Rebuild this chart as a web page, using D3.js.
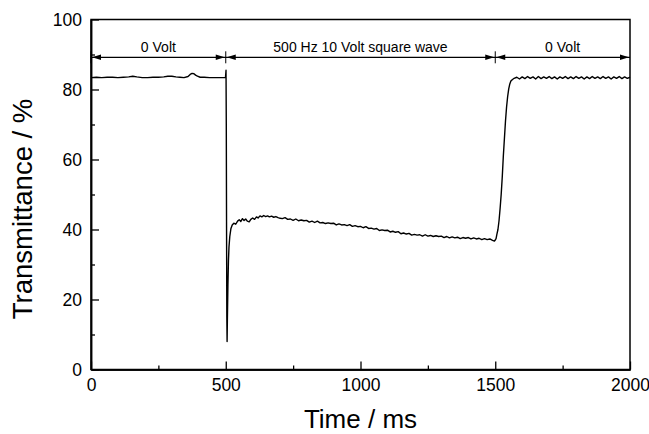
<!DOCTYPE html>
<html>
<head>
<meta charset="utf-8">
<script src="https://cdn.jsdelivr.net/npm/d3@7.9.0/dist/d3.min.js"></script>
<style>
  body { margin: 0; background: #fff; }
  svg text { font-family: Arial, "Liberation Sans", Helvetica, sans-serif; fill: #000; }
</style>
</head>
<body>
<svg id="chart" width="649" height="434"></svg>
<script>
// axis ticks
const xTicks = [0, 500, 1000, 1500, 2000];
const xMinor = [250, 750, 1250, 1750];
const yTicks = [0, 20, 40, 60, 80, 100];
const yMinor = [10, 30, 50, 70, 90];

// voltage phases shown above the trace
const phaseBounds = [0, 500, 1500, 2000];
const phaseLabels = ['0 Volt', '500 Hz 10 Volt square wave', '0 Volt'];
const phaseLevel = 89.2;

// transmittance trace [time ms, %]
const offBefore = [
  [0, 83.4], [20, 83.5], [40, 83.4], [60, 83.5], [80, 83.5], [100, 83.4], [120, 83.5],
  [140, 83.6], [155, 83.8], [170, 83.6], [190, 83.4], [210, 83.4], [230, 83.5], [250, 83.5],
  [270, 83.6], [285, 83.8], [300, 83.8], [315, 83.6], [330, 83.5], [345, 83.4], [360, 83.7],
  [368, 84.3], [375, 84.6], [382, 84.5], [388, 84.1], [395, 83.8], [405, 83.5], [420, 83.5],
  [440, 83.4], [460, 83.4], [480, 83.4], [499, 83.4]
];

const driven = [
  [501, 85.5], [502, 70], [503, 40], [504, 15], [505, 8], [506, 14], [508, 24], [510, 31],
  [512, 35], [515, 38], [519, 40.2], [524, 41.3], [530, 41.8], [537, 41.5], [544, 42.4],
  [550, 42.8], [556, 42.3], [562, 43.1], [568, 42.6], [574, 43.0], [580, 42.4], [587, 42.2],
  [593, 42.9], [600, 43.3], [607, 42.9], [614, 43.6], [620, 43.3], [627, 43.9], [634, 43.6],
  [641, 44.0], [648, 43.7], [655, 43.9], [662, 43.6], [670, 43.8], [678, 43.5], [686, 43.7],
  [694, 43.4], [702, 43.2], [710, 43.1], [720, 43.4], [730, 42.9], [740, 43.0], [750, 42.6],
  [760, 43.0], [770, 42.5], [780, 42.7], [790, 42.5], [800, 42.6], [810, 42.1], [820, 42.4],
  [830, 42.0], [840, 42.4], [850, 41.9], [860, 42.0], [870, 41.7], [880, 41.9], [890, 41.7],
  [900, 41.8], [910, 41.3], [920, 41.6], [930, 41.3], [940, 41.4], [950, 41.1], [960, 41.4],
  [970, 40.9], [980, 41.1], [990, 40.8], [1000, 40.9], [1010, 40.5], [1020, 40.8], [1030, 40.3],
  [1040, 40.4], [1050, 40.1], [1060, 40.3], [1070, 39.7], [1080, 39.9], [1090, 39.7], [1100, 39.8],
  [1110, 39.3], [1120, 39.5], [1130, 39.2], [1140, 39.4], [1150, 38.8], [1160, 39.0], [1170, 38.7],
  [1180, 38.9], [1190, 38.4], [1200, 38.6], [1210, 38.4], [1220, 38.5], [1230, 38.1], [1240, 38.5],
  [1250, 38.1], [1260, 38.3], [1270, 38.0], [1280, 38.2], [1290, 38.0], [1300, 38.1], [1310, 37.7],
  [1320, 38.0], [1330, 37.6], [1340, 37.9], [1350, 37.6], [1360, 37.8], [1370, 37.4], [1380, 37.7],
  [1390, 37.5], [1400, 37.7], [1410, 37.3], [1420, 37.6], [1430, 37.3], [1440, 37.5], [1450, 37.1],
  [1460, 37.4], [1470, 37.1], [1480, 37.3], [1490, 36.9], [1497, 36.7]
];

const offAfter = [
  [1500, 37.0], [1503, 37.4], [1506, 38.6], [1510, 40.0], [1514, 42.5], [1518, 46], [1522, 50],
  [1526, 55], [1530, 61], [1534, 66], [1538, 71], [1542, 75], [1546, 78], [1550, 80.2],
  [1554, 81.6], [1558, 82.4], [1563, 82.8], [1570, 83.2], [1580, 83.5], [1590, 83.0],
  [1600, 83.6], [1610, 83.1], [1620, 83.7], [1630, 83.2], [1640, 83.6], [1650, 83.0],
  [1660, 83.7], [1670, 83.1], [1680, 83.6], [1690, 83.2], [1700, 83.7], [1710, 83.1],
  [1720, 83.6], [1730, 83.0], [1740, 83.6], [1750, 83.2], [1760, 83.7], [1770, 83.1],
  [1780, 83.6], [1790, 83.1], [1800, 83.7], [1810, 83.2], [1820, 83.6], [1830, 83.0],
  [1840, 83.6], [1850, 83.1], [1860, 83.7], [1870, 83.2], [1880, 83.6], [1890, 83.1],
  [1900, 83.7], [1910, 83.2], [1920, 83.6], [1930, 83.0], [1940, 83.6], [1950, 83.2],
  [1960, 83.7], [1970, 83.1], [1980, 83.6], [1990, 83.2], [2000, 83.5]
];

const width = 649, height = 434;
const margin = { top: 19.5, right: 19, bottom: 64.5, left: 91 };
const innerW = width - margin.left - margin.right;
const innerH = height - margin.top - margin.bottom;

const svg = d3.select('#chart');
const g = svg.append('g').attr('transform', `translate(${margin.left},${margin.top})`);

const x = d3.scaleLinear().domain([0, 2000]).range([0, innerW]);
const y = d3.scaleLinear().domain([0, 100]).range([innerH, 0]);

// frame
g.append('rect')
  .attr('width', innerW).attr('height', innerH)
  .attr('fill', 'none').attr('stroke', '#000').attr('stroke-width', 1.5);

// axes with inward ticks
const xAxis = g.append('g').attr('transform', `translate(0,${innerH})`)
  .call(d3.axisBottom(x).tickValues(xTicks).tickFormat(d3.format('d'))
    .tickSizeInner(-8).tickSizeOuter(0).tickPadding(9));
g.append('g').attr('transform', `translate(0,${innerH})`)
  .call(d3.axisBottom(x).tickValues(xMinor).tickSizeInner(-4).tickSizeOuter(0).tickFormat(''));
const yAxis = g.append('g')
  .call(d3.axisLeft(y).tickValues(yTicks).tickFormat(d3.format('d'))
    .tickSizeInner(-8).tickSizeOuter(0).tickPadding(9));
g.append('g')
  .call(d3.axisLeft(y).tickValues(yMinor).tickSizeInner(-4).tickSizeOuter(0).tickFormat(''));

g.selectAll('.domain').attr('stroke', '#000').attr('stroke-width', 1.5);
g.selectAll('.tick line').attr('stroke', '#000').attr('stroke-width', 1.3);
xAxis.selectAll('text').style('font-size', '17.5px');
yAxis.selectAll('text').style('font-size', '17.5px');

// axis titles
svg.append('text')
  .attr('x', margin.left + innerW / 2).attr('y', 428)
  .attr('text-anchor', 'middle').style('font-size', '26px')
  .text('Time / ms');
svg.append('text')
  .attr('transform', `translate(32,${209}) rotate(-90)`)
  .attr('text-anchor', 'middle').style('font-size', '27.5px')
  .text('Transmittance / %');

// phase annotation: double arrows between the switching times
const ay = y(phaseLevel);
const ann = g.append('g');
ann.append('line')
  .attr('x1', x(phaseBounds[0])).attr('x2', x(phaseBounds[phaseBounds.length - 1]))
  .attr('y1', ay).attr('y2', ay)
  .attr('stroke', '#000').attr('stroke-width', 1.3);
ann.selectAll('line.bound')
  .data(phaseBounds.slice(0, -1))
  .enter().append('line').attr('class', 'bound')
  .attr('x1', d => x(d)).attr('x2', d => x(d))
  .attr('y1', ay - 6).attr('y2', ay + 6)
  .attr('stroke', '#000').attr('stroke-width', 1);

const heads = [];
phaseLabels.forEach((lab, i) => {
  heads.push({ at: phaseBounds[i], dir: -1 });
  heads.push({ at: phaseBounds[i + 1], dir: 1 });
});
ann.selectAll('path.head')
  .data(heads)
  .enter().append('path').attr('class', 'head')
  .attr('d', d => {
    const tip = x(d.at) - d.dir * 1;
    const base = tip - d.dir * 9;
    return `M${tip},${ay}L${base},${ay - 2.8}L${base},${ay + 2.8}Z`;
  })
  .attr('fill', '#000');

ann.selectAll('text.phase')
  .data(phaseLabels)
  .enter().append('text').attr('class', 'phase')
  .attr('x', (d, i) => x((phaseBounds[i] + phaseBounds[i + 1]) / 2))
  .attr('y', ay - 5.5)
  .attr('text-anchor', 'middle')
  .style('font-size', '14px')
  .text(d => d);

// trace
const trace = offBefore.concat(driven, offAfter);
const line = d3.line().x(d => x(d[0])).y(d => y(d[1]));
g.append('path')
  .datum(trace)
  .attr('d', line)
  .attr('fill', 'none')
  .attr('stroke', '#000')
  .attr('stroke-width', 1.4)
  .attr('stroke-linejoin', 'round');
</script>
</body>
</html>
